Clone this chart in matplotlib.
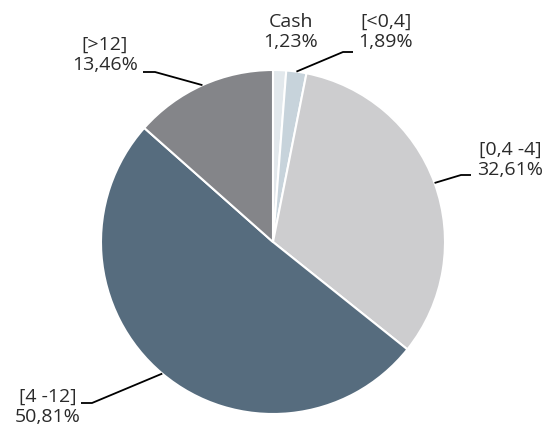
import numpy as np
import matplotlib
matplotlib.use('Agg')
import matplotlib.pyplot as plt

plt.rcParams['font.family'] = ['Open Sans', 'DejaVu Sans']

# Data
labels = ['Cash', '[<0,4]', '[0,4 -4]', '[4 -12]', '[>12]']
values = [1.23, 1.89, 32.61, 50.81, 13.46]
pct_text = ['1,23%', '1,89%', '32,61%', '50,81%', '13,46%']
colors = ['#e2e8ec', '#c7d3db', '#cdcdcf', '#566c7e', '#848589']

W, H = 557, 428
cx, cy, R = 273, H - 242, 172

fig = plt.figure(figsize=(W / 100, H / 100), dpi=100)
ax = fig.add_axes([0, 0, 1, 1])
ax.axis('off')

wedges, _ = ax.pie(values, colors=colors, startangle=90, counterclock=False,
                   center=(cx, cy), radius=R,
                   wedgeprops=dict(edgecolor='white', linewidth=1.5))
ax.set_xlim(0, W)
ax.set_ylim(0, H)
ax.set_aspect('equal')

# label placement (pixels from top): text centre, elbow, line end
label_pos = {
    0: dict(text=(291, 32), line=None),
    1: dict(text=(386, 32), line=[(343, 52), (353, 52)]),
    2: dict(text=(510, 160), line=[(461, 175), (471, 175)]),
    3: dict(text=(48, 407), line=[(92, 403), (81, 403)]),
    4: dict(text=(105, 55), line=[(155, 72), (143, 72)]),
}

for i, w in enumerate(wedges):
    mid = np.deg2rad((w.theta1 + w.theta2) / 2)
    ex, ey = cx + R * np.cos(mid), cy + R * np.sin(mid)
    p = label_pos[i]
    if p['line'] is not None:
        xs = [ex] + [q[0] for q in p['line']]
        ys = [ey] + [H - q[1] for q in p['line']]
        ax.plot(xs, ys, color='black', lw=1.3, solid_capstyle='butt')
    tx, ty = p['text']
    ax.text(tx, H - ty, labels[i] + '\n' + pct_text[i], ha='center', va='center',
            fontsize=14, color='#2a2a2a', linespacing=1.2)

plt.savefig('out.png', dpi=100)
